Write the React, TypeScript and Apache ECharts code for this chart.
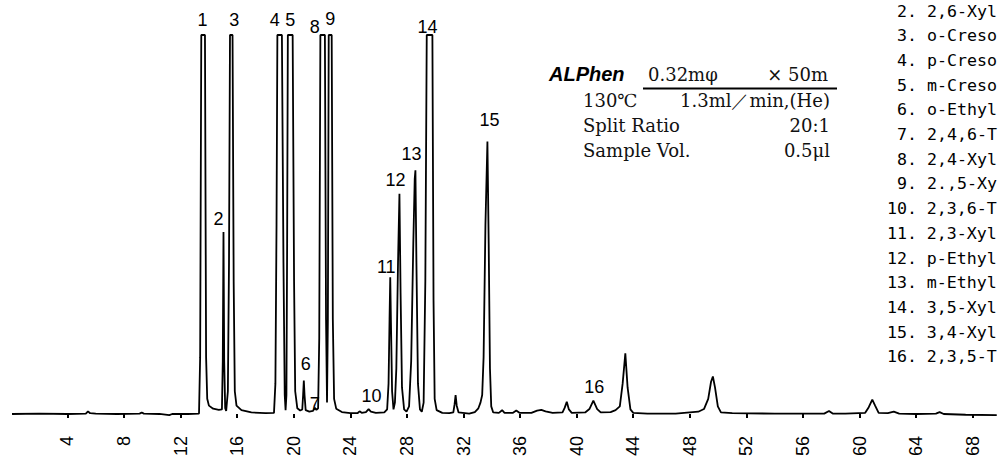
import React, { useEffect, useRef } from "react";
import * as echarts from "echarts";

// x-axis tick labels (retention time, min)
const tickLabels = [4, 8, 12, 16, 20, 24, 28, 32, 36, 40, 44, 48, 52, 56, 60, 64, 68];

// detector trace: time (min) and signal (% of full scale, saturates at 100)
const traceTimes = [
  0.08, 2, 4, 5.3, 5.45, 5.6, 6, 7.5, 9.1, 9.25, 9.4, 10.5, 11.2, 11.4, 12.5, 13.3,
  13.38, 13.46, 13.72, 13.8, 13.88, 14.0, 14.3, 14.7, 14.92, 14.98, 15.03, 15.08, 15.15, 15.22,
  15.34, 15.42, 15.49, 15.67, 15.75, 15.83, 15.95, 16.3, 17, 18, 18.6, 18.7, 18.78, 18.84,
  19.16, 19.27, 19.36, 19.42, 19.48, 19.53, 19.58, 19.92, 20.02, 20.1, 20.25, 20.45, 20.6,
  20.66, 20.71, 20.76, 20.84, 21.1, 21.35, 21.49, 21.6, 21.72, 21.8, 21.88, 22.2, 22.28,
  22.35, 22.41, 22.47, 22.68, 22.76, 22.85, 23.0, 23.4, 24.0, 24.5, 24.65, 24.8, 25.1, 25.29,
  25.45, 25.8, 26.4, 26.6, 26.7, 26.77, 26.82, 26.87, 26.95, 27.05, 27.15, 27.25, 27.37,
  27.47, 27.55, 27.65, 27.8, 27.97, 28.15, 28.3, 28.45, 28.55, 28.6, 28.67, 28.78, 28.92,
  29.05, 29.18, 29.3, 29.4, 29.8, 29.88, 29.96, 30.1, 30.5, 31.0, 31.28, 31.37, 31.44, 31.52,
  31.65, 32.4, 32.8, 33.05, 33.2, 33.32, 33.42, 33.55, 33.69, 33.78, 33.87, 33.96, 34.1,
  34.5, 34.73, 34.9, 35.5, 35.73, 35.95, 36.8, 37.2, 37.5, 37.8, 38.3, 39.0, 39.15, 39.3,
  39.45, 39.65, 40.6, 40.9, 41.18, 41.45, 41.7, 42.4, 42.75, 43.05, 43.25, 43.44, 43.6, 43.8,
  44.0, 45, 47, 48.6, 49.0, 49.3, 49.5, 49.63, 49.78, 49.98, 50.2, 51, 54, 57.5, 57.84, 58.1,
  59, 60.4, 60.65, 60.9, 61.1, 61.35, 62.0, 62.42, 62.8, 64.0, 65.4, 65.66, 65.95, 67.5, 69.7,
];
const traceValues = [
  0, 0.1, 0, 0.1, 0.7, 0.2, 0.1, 0, 0.1, 0.4, 0.1, 0, -0.3, 0, 0, 0.1,
  15, 100, 100, 15, 4, 2.2, 1.4, 1.1, 1.2, 14, 48, 14, 1.5, 0.8,
  6, 40, 100, 100, 35, 6, 2.2, 1.0, 0.4, 0.2, 0.3, 8, 50, 100,
  100, 40, 5, 1, 5, 45, 100, 100, 35, 6, 1.5, 0.9, 1.2,
  5, 8.8, 5, 1.0, 0.6, 0.8, 1.6, 1.1, 1.5, 20, 100, 100, 25,
  3, 25, 100, 100, 25, 4, 1.4, 0.5, 0.2, 0.2, 0.7, 0.3, 0.5, 1.3,
  0.6, 0.3, 0.4, 1.2, 8, 25, 36.1, 24, 6, 1.2, 3, 12, 40,
  58.1, 32, 7, 1.2, 0.6, 2, 14, 45, 62, 64.3, 40, 8, 1.2,
  0.6, 3, 35, 100, 100, 30, 4, 1, 0.3, 0.2, 0.4, 2.6, 5.0, 2.2,
  0.4, 0.1, 0.5, 1.5, 3, 5, 15, 50, 71.9, 45, 12, 2, 0.4,
  0.3, 1.0, 0.3, 0.3, 0.9, 0.3, 0.3, 0.9, 1.1, 0.7, 0.3, 0.4, 1.6, 3.2,
  1.2, 0.3, 0.4, 1.3, 3.5, 1.3, 0.4, 0.5, 1.0, 2, 8, 16.0, 7, 1.2,
  0.3, 0.1, 0.1, 0.6, 1.3, 4, 8.5, 9.9, 7, 2, 0.4, 0.2, 0.1, 0.1, 0.8, 0.1,
  0.1, 0.3, 1.8, 3.8, 2.2, 0.3, 0.2, 0.6, 0.1, 0, 0.1, 0.5, 0, -0.2, -0.3,
];

// numbered peaks: retention time and apex height
const peakNumbers = ["1", "2", "3", "4", "5", "6", "7", "8", "9", "10", "11", "12", "13", "14", "15", "16"];
const peakTimes = [13.62, 15.03, 15.58, 19.0, 19.75, 20.71, 21.49, 22.05, 22.58, 25.29, 26.82, 27.47, 28.6, 29.6, 33.69, 41.18];
const peakHeights = [100, 48, 100, 100, 100, 8.8, 1.6, 100, 100, 1.3, 36.1, 58.1, 64.3, 100, 71.9, 3.5];

// compound list (as visible, cut by the picture's edge)
const compoundNumbers = ["2.", "3.", "4.", "5.", "6.", "7.", "8.", "9.", "10.", "11.", "12.", "13.", "14.", "15.", "16."];
const compoundNames = [
  "2,6-Xyl", "o-Creso", "p-Creso", "m-Creso", "o-Ethyl", "2,4,6-T", "2,4-Xyl", "2.,5-Xy",
  "2,3,6-T", "2,3-Xyl", "p-Ethyl", "m-Ethyl", "3,5-Xyl", "3,4-Xyl", "2,3,5-T",
];

// analysis conditions
const columnName = "ALPhen";
const columnSize = ["0.32mφ", "× 50m"];
const conditionLeft = ["130℃", "Split Ratio", "Sample Vol."];
const conditionRight = ["1.3ml／min,(He)", "20:1", "0.5μl"];

// label offsets (px) relative to each peak apex
const labelOffsets: [number, number][] = [
  [-1, -15], [-5, -13], [3, -15], [-5, -15], [0, -15], [2, -17], [0, -4], [-8, -8],
  [0, -16], [3, -13], [-4, -10], [-4, -14], [-4, -16], [-2, -8], [2, -21], [1, -14],
];

export default function App() {
  const ref = useRef<HTMLDivElement>(null);
  useEffect(() => {
    if (!ref.current) return;
    const chart = echarts.init(ref.current, null, { renderer: "svg" });
    const sans = "'Liberation Sans', Arial, sans-serif";
    const serif = "'DejaVu Serif', serif";
    const mono = "'DejaVu Sans Mono', monospace";

    const graphics: any[] = [];
    compoundNumbers.forEach((num, i) => {
      const x = 897 - (num.length - 2) * 10.1;
      graphics.push({
        type: "text",
        x,
        y: 11 + i * 24.7,
        style: {
          text: num + " " + compoundNames[i],
          font: `16.6px ${mono}`,
          fill: "#000",
          textAlign: "left",
          textVerticalAlign: "middle",
        },
      });
    });
    graphics.push({
      type: "text",
      x: 549,
      y: 74,
      style: { text: columnName, font: `italic bold 20px ${sans}`, fill: "#000", textAlign: "left", textVerticalAlign: "middle" },
    });
    graphics.push({
      type: "text",
      x: 648,
      y: 74,
      style: { text: columnSize[0], font: `18px ${serif}`, fill: "#111", textAlign: "left", textVerticalAlign: "middle" },
    });
    graphics.push({
      type: "text",
      x: 828,
      y: 74,
      style: { text: columnSize[1], font: `18px ${serif}`, fill: "#111", textAlign: "right", textVerticalAlign: "middle" },
    });
    graphics.push({
      type: "line",
      shape: { x1: 643, y1: 88.5, x2: 837, y2: 88.5 },
      style: { stroke: "#000", lineWidth: 2 },
    });
    conditionLeft.forEach((t, i) => {
      graphics.push({
        type: "text",
        x: 583,
        y: 100 + i * 25,
        style: { text: t, font: `18px ${serif}`, fill: "#111", textAlign: "left", textVerticalAlign: "middle" },
      });
      graphics.push({
        type: "text",
        x: 830,
        y: 100 + i * 25,
        style: { text: conditionRight[i], font: `18px ${serif}`, fill: "#111", textAlign: "right", textVerticalAlign: "middle" },
      });
    });

    chart.setOption({
      animation: false,
      backgroundColor: "#fff",
      grid: { left: 10.9, top: 35, width: 994.2, height: 380 },
      xAxis: {
        type: "value",
        min: 0,
        max: 70,
        offset: 8,
        splitLine: { show: false },
        axisLine: { show: false },
        axisTick: { show: true, customValues: tickLabels, length: 4, lineStyle: { color: "#000", width: 2 } },
        axisLabel: {
          customValues: tickLabels,
          rotate: 90,
          margin: 14,
          color: "#000",
          fontSize: 18,
          fontFamily: sans,
        },
      },
      yAxis: { type: "value", min: 0, max: 100, show: false },
      series: [
        {
          type: "line",
          data: traceTimes.map((t, i) => [t, traceValues[i]]),
          showSymbol: false,
          symbol: "none",
          clip: false,
          lineStyle: { color: "#000", width: 1.8 },
          silent: true,
        },
        {
          type: "scatter",
          clip: false,
          symbolSize: 0,
          silent: true,
          itemStyle: { opacity: 1 },
          data: peakNumbers.map((n, i) => ({
            name: n,
            value: [peakTimes[i], Math.min(peakHeights[i], 100)],
            label: { offset: labelOffsets[i] },
          })),
          label: {
            show: true,
            position: "inside",
            formatter: "{b}",
            color: "#000",
            fontSize: 18,
            fontFamily: sans,
          },
        },
      ],
      graphic: graphics,
    });
    return () => chart.dispose();
  }, []);
  return (
    <div
      ref={ref}
      style={{ position: "absolute", left: 0, top: 0, width: 1001, height: 459, background: "#fff" }}
    />
  );
}
